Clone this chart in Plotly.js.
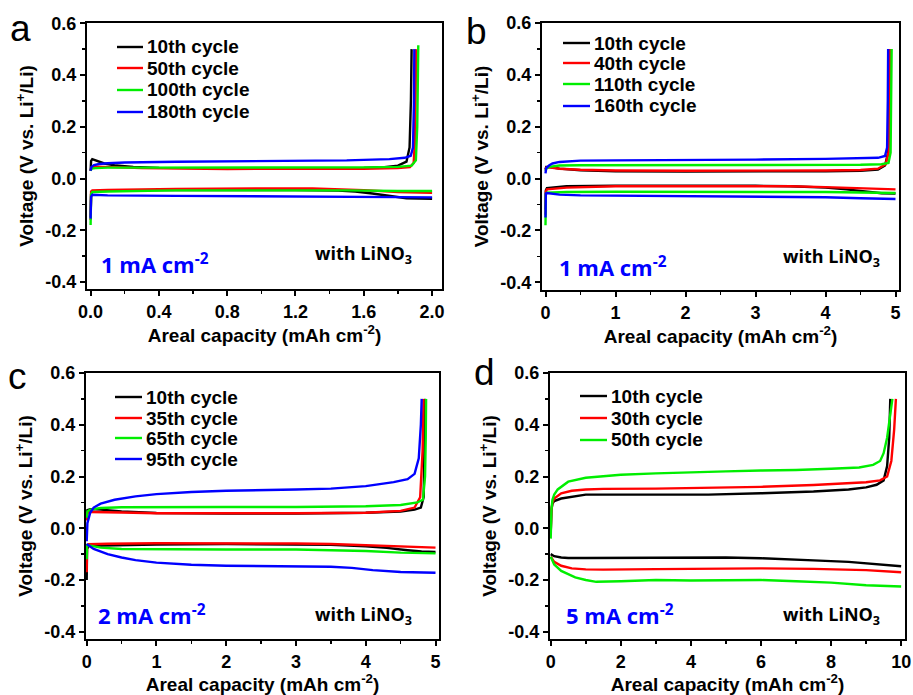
<!DOCTYPE html>
<html><head><meta charset="utf-8">
<script src="https://cdn.plot.ly/plotly-3.0.1.min.js"></script>
<style>html,body{margin:0;padding:0;background:#fff;} #chart{width:913px;height:695px;}</style>
</head><body><div id="chart"></div>
<script>
// ---------------- DATA ----------------
// Panel a (1 mA cm-2, capacity to 2)
const a_names = ['10th cycle', '50th cycle', '100th cycle', '180th cycle'];
const a10_chg_x = [0, 0.003, 0.01, 0.03, 0.08, 0.15, 0.25, 0.4, 0.8, 1.2, 1.6, 1.72, 1.8, 1.85, 1.868, 1.876, 1.88];
const a10_chg_v = [0.03, 0.068, 0.075, 0.07, 0.058, 0.05, 0.045, 0.041, 0.04, 0.04, 0.041, 0.044, 0.05, 0.065, 0.12, 0.3, 0.5];
const a50_chg_x = [0, 0.005, 0.03, 0.1, 0.3, 0.8, 1.2, 1.6, 1.8, 1.87, 1.892, 1.9, 1.904, 1.906];
const a50_chg_v = [0.03, 0.042, 0.046, 0.045, 0.04, 0.037, 0.037, 0.038, 0.04, 0.044, 0.06, 0.15, 0.35, 0.5];
const a100_chg_x = [0, 0.005, 0.03, 0.1, 0.3, 0.8, 1.2, 1.6, 1.8, 1.88, 1.905, 1.913, 1.917, 1.919];
const a100_chg_v = [0.03, 0.038, 0.04, 0.042, 0.042, 0.042, 0.042, 0.043, 0.045, 0.05, 0.07, 0.2, 0.4, 0.515];
const a180_chg_x = [0, 0.005, 0.02, 0.05, 0.1, 0.2, 0.5, 1.0, 1.5, 1.75, 1.84, 1.875, 1.888, 1.894, 1.896];
const a180_chg_v = [0.03, 0.045, 0.052, 0.056, 0.059, 0.062, 0.065, 0.067, 0.07, 0.075, 0.08, 0.088, 0.12, 0.3, 0.5];
const a10_dis_x = [0, 0.003, 0.01, 0.05, 0.3, 0.8, 1.2, 1.45, 1.55, 1.65, 1.75, 1.85, 2.0];
const a10_dis_v = [-0.15, -0.06, -0.05, -0.048, -0.045, -0.044, -0.045, -0.047, -0.05, -0.058, -0.068, -0.076, -0.078];
const a50_dis_x = [0, 0.003, 0.01, 0.1, 0.5, 1.0, 1.3, 1.6, 1.8, 2.0];
const a50_dis_v = [-0.16, -0.05, -0.046, -0.044, -0.04, -0.037, -0.038, -0.045, -0.052, -0.055];
const a100_dis_x = [0, 0.003, 0.01, 0.1, 0.5, 1.0, 1.5, 1.8, 2.0];
const a100_dis_v = [-0.18, -0.06, -0.052, -0.05, -0.046, -0.045, -0.046, -0.048, -0.048];
const a180_dis_x = [0, 0.003, 0.01, 0.1, 0.5, 1.0, 1.5, 1.8, 2.0];
const a180_dis_v = [-0.155, -0.07, -0.063, -0.065, -0.067, -0.068, -0.07, -0.072, -0.073];

// Panel b (1 mA cm-2, capacity to 5)
const b_names = ['10th cycle', '40th cycle', '110th cycle', '160th cycle'];
const b10_chg_x = [0, 0.01, 0.05, 0.2, 0.5, 1, 2, 3, 4, 4.5, 4.75, 4.85, 4.895, 4.91, 4.915];
const b10_chg_v = [0.035, 0.045, 0.045, 0.038, 0.032, 0.028, 0.027, 0.027, 0.028, 0.03, 0.035, 0.05, 0.1, 0.3, 0.5];
const b40_chg_x = [0, 0.01, 0.05, 0.2, 0.5, 1, 2, 3, 4, 4.5, 4.75, 4.86, 4.9, 4.915, 4.922];
const b40_chg_v = [0.035, 0.042, 0.043, 0.038, 0.034, 0.031, 0.03, 0.03, 0.031, 0.033, 0.038, 0.055, 0.1, 0.3, 0.5];
const b110_chg_x = [0, 0.01, 0.05, 0.2, 0.5, 1, 2, 3, 4, 4.5, 4.8, 4.9, 4.93, 4.94, 4.945];
const b110_chg_v = [0.03, 0.038, 0.045, 0.05, 0.051, 0.051, 0.051, 0.051, 0.052, 0.053, 0.055, 0.06, 0.1, 0.3, 0.5];
const b160_chg_x = [0, 0.01, 0.05, 0.1, 0.2, 0.5, 1, 2, 3, 4, 4.5, 4.75, 4.85, 4.88, 4.89, 4.895];
const b160_chg_v = [0.02, 0.04, 0.05, 0.058, 0.064, 0.069, 0.07, 0.071, 0.073, 0.076, 0.078, 0.08, 0.087, 0.12, 0.3, 0.5];
const b10_dis_x = [0, 0.005, 0.02, 0.3, 1, 2, 3, 3.5, 4, 4.3, 4.6, 4.8, 5];
const b10_dis_v = [-0.12, -0.045, -0.037, -0.03, -0.028, -0.027, -0.028, -0.03, -0.035, -0.042, -0.052, -0.057, -0.058];
const b40_dis_x = [0, 0.005, 0.02, 0.3, 1, 2, 3, 3.5, 4, 4.5, 5];
const b40_dis_v = [-0.14, -0.05, -0.042, -0.035, -0.03, -0.029, -0.029, -0.03, -0.033, -0.038, -0.042];
const b110_dis_x = [0, 0.005, 0.02, 0.3, 1, 2, 3, 4, 4.5, 5];
const b110_dis_v = [-0.18, -0.06, -0.055, -0.052, -0.051, -0.051, -0.051, -0.052, -0.054, -0.056];
const b160_dis_x = [0, 0.005, 0.02, 0.2, 0.5, 1, 2, 3, 3.5, 4, 4.5, 5];
const b160_dis_v = [-0.15, -0.058, -0.056, -0.062, -0.065, -0.066, -0.067, -0.068, -0.069, -0.072, -0.076, -0.079];

// Panel c (2 mA cm-2, capacity to 5)
const c_names = ['10th cycle', '35th cycle', '65th cycle', '95th cycle'];
const c10_chg_x = [0, 0.01, 0.05, 0.2, 0.5, 1, 2, 3, 4, 4.5, 4.7, 4.79, 4.83, 4.845, 4.852];
const c10_chg_v = [0.04, 0.07, 0.074, 0.072, 0.065, 0.059, 0.057, 0.057, 0.06, 0.065, 0.072, 0.08, 0.12, 0.3, 0.5];
const c35_chg_x = [0, 0.01, 0.05, 0.2, 0.5, 1, 2, 3, 4, 4.5, 4.7, 4.78, 4.815, 4.828];
const c35_chg_v = [0.03, 0.06, 0.063, 0.063, 0.061, 0.058, 0.057, 0.058, 0.06, 0.067, 0.08, 0.12, 0.3, 0.5];
const c65_chg_x = [0, 0.01, 0.05, 0.2, 0.5, 1, 2, 3, 4, 4.5, 4.74, 4.82, 4.85, 4.86, 4.865];
const c65_chg_v = [0.04, 0.065, 0.072, 0.078, 0.081, 0.082, 0.082, 0.082, 0.085, 0.09, 0.1, 0.11, 0.2, 0.35, 0.5];
const c95_chg_x = [0, 0.01, 0.05, 0.1, 0.2, 0.4, 0.7, 1, 1.5, 2, 3, 3.5, 4, 4.4, 4.6, 4.7, 4.76, 4.79, 4.802];
const c95_chg_v = [-0.05, 0.02, 0.06, 0.08, 0.095, 0.11, 0.123, 0.132, 0.14, 0.145, 0.15, 0.153, 0.163, 0.178, 0.19, 0.21, 0.27, 0.4, 0.5];
const c10_dis_x = [0, 0.005, 0.03, 0.3, 1, 2, 3, 3.5, 4, 4.3, 4.6, 4.8, 5];
const c10_dis_v = [-0.2, -0.08, -0.068, -0.066, -0.063, -0.061, -0.062, -0.064, -0.07, -0.076, -0.085, -0.09, -0.092];
const c35_dis_x = [0, 0.005, 0.03, 0.3, 1, 2, 3, 3.5, 4, 4.5, 5];
const c35_dis_v = [-0.17, -0.07, -0.062, -0.06, -0.058, -0.058, -0.059, -0.061, -0.066, -0.071, -0.075];
const c65_dis_x = [0, 0.005, 0.03, 0.2, 0.5, 1, 2, 3, 3.5, 4, 4.5, 5];
const c65_dis_v = [-0.12, -0.065, -0.066, -0.075, -0.08, -0.081, -0.082, -0.082, -0.084, -0.088, -0.094, -0.097];
const c95_dis_x = [0, 0.02, 0.1, 0.3, 0.5, 0.7, 1, 1.5, 2, 3, 3.5, 3.8, 4.1, 4.5, 5];
const c95_dis_v = [-0.06, -0.065, -0.08, -0.1, -0.113, -0.123, -0.133, -0.141, -0.145, -0.147, -0.149, -0.153, -0.162, -0.169, -0.172];

// Panel d (5 mA cm-2, capacity to 10)
const d_names = ['10th cycle', '30th cycle', '50th cycle'];
const d10_chg_x = [0, 0.02, 0.05, 0.1, 0.3, 0.6, 1, 2, 3, 4.5, 6, 7.5, 8.5, 9, 9.3, 9.5, 9.6, 9.66, 9.69];
const d10_chg_v = [-0.02, 0.07, 0.095, 0.105, 0.115, 0.122, 0.13, 0.13, 0.13, 0.13, 0.135, 0.142, 0.15, 0.158, 0.168, 0.185, 0.24, 0.35, 0.5];
const d30_chg_x = [0, 0.02, 0.05, 0.1, 0.3, 0.6, 1, 1.5, 3, 4.5, 6, 7.5, 8.5, 9, 9.4, 9.6, 9.72, 9.8, 9.85];
const d30_chg_v = [-0.02, 0.07, 0.1, 0.115, 0.135, 0.145, 0.15, 0.152, 0.153, 0.156, 0.16, 0.167, 0.173, 0.178, 0.185, 0.2, 0.26, 0.38, 0.5];
const d50_chg_x = [0, 0.02, 0.05, 0.1, 0.2, 0.5, 1, 1.5, 2, 3, 4, 5, 6, 7, 8, 8.8, 9.2, 9.4, 9.5, 9.6, 9.68, 9.75];
const d50_chg_v = [-0.04, 0.07, 0.11, 0.13, 0.15, 0.18, 0.195, 0.2, 0.207, 0.212, 0.217, 0.22, 0.223, 0.225, 0.23, 0.235, 0.245, 0.26, 0.29, 0.35, 0.43, 0.5];
const d10_dis_x = [0, 0.1, 0.3, 0.5, 1, 2, 3, 4, 5, 6, 7, 7.5, 8.5, 9.3, 10];
const d10_dis_v = [-0.1, -0.108, -0.113, -0.115, -0.115, -0.114, -0.113, -0.112, -0.113, -0.116, -0.12, -0.124, -0.13, -0.138, -0.147];
const d30_dis_x = [0, 0.1, 0.3, 0.6, 1, 1.5, 3, 4, 6, 7.5, 9, 10];
const d30_dis_v = [-0.11, -0.13, -0.145, -0.155, -0.159, -0.16, -0.158, -0.157, -0.155, -0.157, -0.162, -0.17];
const d50_dis_x = [0, 0.1, 0.3, 0.7, 1, 1.3, 2, 3, 4, 5, 6, 7, 8, 9, 10];
const d50_dis_v = [-0.11, -0.14, -0.165, -0.19, -0.2, -0.207, -0.205, -0.2, -0.202, -0.2, -0.2, -0.205, -0.21, -0.22, -0.225];

// Tick labels
const y_tickvals = [-0.4, -0.2, 0, 0.2, 0.4, 0.6];
const y_ticktext = ['-0.4', '-0.2', '0.0', '0.2', '0.4', '0.6'];
const a_xtickvals = [0, 0.4, 0.8, 1.2, 1.6, 2.0];
const a_xticktext = ['0.0', '0.4', '0.8', '1.2', '1.6', '2.0'];
const bc_xtickvals = [0, 1, 2, 3, 4, 5];
const bc_xticktext = ['0', '1', '2', '3', '4', '5'];
const d_xtickvals = [0, 2, 4, 6, 8, 10];
const d_xticktext = ['0', '2', '4', '6', '8', '10'];

const currents = ['1 mA cm<sup>-2</sup>', '1 mA cm<sup>-2</sup>', '2 mA cm<sup>-2</sup>', '5 mA cm<sup>-2</sup>'];
const panelLetters = ['a', 'b', 'c', 'd'];

// ---------------- BUILD ----------------
const seriesColors = ['#000000', '#ff0000', '#00ee00', '#0000ff'];
const W = 913, H = 695;
const px = x => x / W;
const py = y => 1 - y / H;

const panels = [
  { ax: '', names: a_names,
    chgX: [a10_chg_x, a50_chg_x, a100_chg_x, a180_chg_x], chgV: [a10_chg_v, a50_chg_v, a100_chg_v, a180_chg_v],
    disX: [a10_dis_x, a50_dis_x, a100_dis_x, a180_dis_x], disV: [a10_dis_v, a50_dis_v, a100_dis_v, a180_dis_v],
    box: [87, 442, 23, 289], xr: [-0.021, 2.058], yr: [-0.427, 0.601], xtv: a_xtickvals, xtt: a_xticktext, minor: 0.2,
    leg: { x0: 117, x1: 143, tx: 145, rows: [47, 68, 90, 112] },
    cur: [99, 263], lino: [313, 255], letter: [8, 28] },
  { ax: '2', names: b_names,
    chgX: [b10_chg_x, b40_chg_x, b110_chg_x, b160_chg_x], chgV: [b10_chg_v, b40_chg_v, b110_chg_v, b160_chg_v],
    disX: [b10_dis_x, b40_dis_x, b110_dis_x, b160_dis_x], disV: [b10_dis_v, b40_dis_v, b110_dis_v, b160_dis_v],
    box: [542, 899, 23, 290], xr: [-0.05, 5.05], yr: [-0.43, 0.6], xtv: bc_xtickvals, xtt: bc_xticktext, minor: 0.5,
    leg: { x0: 563, x1: 590, tx: 592, rows: [43, 63, 84, 106] },
    cur: [557, 266], lino: [781, 257], letter: [464, 32] },
  { ax: '3', names: c_names,
    chgX: [c10_chg_x, c35_chg_x, c65_chg_x, c95_chg_x], chgV: [c10_chg_v, c35_chg_v, c65_chg_v, c95_chg_v],
    disX: [c10_dis_x, c35_dis_x, c65_dis_x, c95_dis_x], disV: [c10_dis_v, c35_dis_v, c65_dis_v, c95_dis_v],
    box: [86, 439, 373, 639], xr: [-0.01, 5.05], yr: [-0.428, 0.6], xtv: bc_xtickvals, xtt: bc_xticktext, minor: 0.5,
    leg: { x0: 115, x1: 142, tx: 144, rows: [397, 418, 438, 459] },
    cur: [96, 614], lino: [313, 615], letter: [6, 376] },
  { ax: '4', names: d_names,
    chgX: [d10_chg_x, d30_chg_x, d50_chg_x], chgV: [d10_chg_v, d30_chg_v, d50_chg_v],
    disX: [d10_dis_x, d30_dis_x, d50_dis_x], disV: [d10_dis_v, d30_dis_v, d50_dis_v],
    box: [550, 905, 373, 639], xr: [-0.02, 10.11], yr: [-0.428, 0.6], xtv: d_xtickvals, xtt: d_xticktext, minor: 1,
    leg: { x0: 580, x1: 607, tx: 609, rows: [396, 418, 440] },
    cur: [564, 614], lino: [781, 615], letter: [472, 372] }
];

const traces = [];
const shapes = [];
const annotations = [];
const layout = {
  width: W, height: H, margin: { l: 0, r: 0, t: 0, b: 0 },
  paper_bgcolor: '#ffffff', plot_bgcolor: '#ffffff', showlegend: false
};

const tickFont = { family: 'Liberation Sans, Arial, sans-serif', size: 18, color: '#000', weight: 'bold' };
const titleFont = { family: 'Liberation Sans, Arial, sans-serif', size: 19, color: '#000', weight: 'bold' };

panels.forEach((p, pi) => {
  const xa = 'x' + p.ax, ya = 'y' + p.ax;
  p.names.forEach((nm, i) => {
    traces.push({
      type: 'scatter', mode: 'lines', name: nm, xaxis: xa, yaxis: ya,
      x: p.chgX[i].concat([null], p.disX[i]),
      y: p.chgV[i].concat([null], p.disV[i]),
      connectgaps: false,
      line: { color: seriesColors[i], width: 2.4 },
      hoverinfo: 'skip'
    });
    // legend sample + label
    const ry = p.leg.rows[i];
    shapes.push({ type: 'line', xref: 'paper', yref: 'paper', x0: px(p.leg.x0), x1: px(p.leg.x1), y0: py(ry), y1: py(ry),
      line: { color: seriesColors[i], width: 2.4 } });
    annotations.push({ xref: 'paper', yref: 'paper', x: px(p.leg.tx), y: py(ry), xanchor: 'left', yanchor: 'middle',
      text: nm, showarrow: false, font: { family: 'Liberation Sans, Arial, sans-serif', size: 19, color: '#000', weight: 'bold' } });
  });
  const [L, R, T, B] = p.box;
  layout['xaxis' + p.ax] = {
    domain: [px(L), px(R)], range: p.xr, anchor: ya, showgrid: false, zeroline: false,
    showline: true, linecolor: '#000', linewidth: 2, mirror: true,
    ticks: 'outside', ticklen: 5, tickwidth: 2, tickcolor: '#000',
    tickmode: 'array', tickvals: p.xtv, ticktext: p.xtt, tickfont: tickFont,
    minor: { tickmode: 'linear', tick0: 0, dtick: p.minor, ticks: 'outside', ticklen: 3, tickwidth: 1.5, tickcolor: '#000', showgrid: false },
    title: { text: 'Areal capacity (mAh cm<sup>-2</sup>)', font: titleFont, standoff: 2 }
  };
  layout['yaxis' + p.ax] = {
    domain: [py(B), py(T)], range: p.yr, anchor: xa, showgrid: false, zeroline: false,
    showline: true, linecolor: '#000', linewidth: 2, mirror: true,
    ticks: 'outside', ticklen: 5, tickwidth: 2, tickcolor: '#000',
    tickmode: 'array', tickvals: y_tickvals, ticktext: y_ticktext, tickfont: tickFont,
    minor: { tickmode: 'linear', tick0: 0, dtick: 0.1, ticks: 'outside', ticklen: 3, tickwidth: 1.5, tickcolor: '#000', showgrid: false },
    title: { text: 'Voltage (V vs. Li<sup>+</sup>/Li)', font: titleFont, standoff: 7 }
  };
  annotations.push({ xref: 'paper', yref: 'paper', x: px(p.cur[0]), y: py(p.cur[1]), xanchor: 'left', yanchor: 'middle',
    text: currents[pi], showarrow: false, font: { family: 'Open Sans, sans-serif', size: 22, color: '#0000ff', weight: 'bold' } });
  annotations.push({ xref: 'paper', yref: 'paper', x: px(p.lino[0]), y: py(p.lino[1]), xanchor: 'left', yanchor: 'middle',
    text: 'with LiNO<sub>3</sub>', showarrow: false, font: { family: 'Open Sans, sans-serif', size: 18, color: '#000', weight: 'bold' } });
  annotations.push({ xref: 'paper', yref: 'paper', x: px(p.letter[0]), y: py(p.letter[1]), xanchor: 'left', yanchor: 'middle',
    text: panelLetters[pi], showarrow: false, font: { family: 'Liberation Sans, Arial, sans-serif', size: 37, color: '#000' } });
});

layout.shapes = shapes;
layout.annotations = annotations;

Plotly.newPlot('chart', traces, layout, { displayModeBar: false, staticPlot: true });
</script></body></html>
